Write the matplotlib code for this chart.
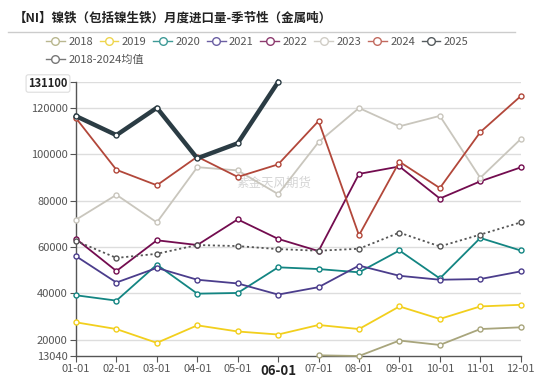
import numpy as np
import matplotlib
matplotlib.use("Agg")
import matplotlib.pyplot as plt
from matplotlib.lines import Line2D

plt.rcParams['font.family'] = ['Noto Sans CJK SC', 'DejaVu Sans']

months = ["01-01", "02-01", "03-01", "04-01", "05-01", "06-01",
          "07-01", "08-01", "09-01", "10-01", "11-01", "12-01"]
nan = np.nan
y2018 = [nan, nan, nan, nan, nan, nan, 13330, 13040, 19700, 17800, 24650, 25400]
y2019 = [27550, 24650, 18700, 26250, 23600, 22300, 26400, 24650, 34400, 29000, 34400, 35100]
y2020 = [39200, 36900, 52400, 39900, 40200, 51250, 50500, 49100, 58500, 46450, 63900, 58500]
y2021 = [56050, 44700, 51000, 45900, 44300, 39500, 42700, 52000, 47600, 45900, 46200, 49500]
y2022 = [63500, 49650, 62900, 60860, 71900, 63500, 58250, 91500, 94700, 80900, 88300, 94300]
y2023 = [71760, 82500, 70600, 94400, 93000, 82800, 105200, 119900, 112000, 116500, 89800, 106500]
y2024 = [115500, 93260, 86600, 98900, 90200, 95600, 114300, 65050, 96750, 85400, 109500, 125000]
y2025 = [116400, 108200, 120000, 98200, 104700, 131100, nan, nan, nan, nan, nan, nan]
avg = [62600, 55300, 57070, 60860, 60400, 59100, 58400, 59250, 66200, 60250, 65350, 70600]

ymin, ymax = 13040, 131100
yticks = [13040, 20000, 40000, 60000, 80000, 100000, 120000, 131100]

series = [
    ("2018", y2018, "#a8a57c", 1.3),
    ("2019", y2019, "#f2cf1d", 1.3),
    ("2020", y2020, "#138582", 1.3),
    ("2021", y2021, "#4b3d8c", 1.3),
    ("2022", y2022, "#730c4f", 1.3),
    ("2023", y2023, "#c9c6bd", 1.3),
    ("2024", y2024, "#b2473a", 1.3),
    ("2025", y2025, "#2b3c44", 3.2),
]
leg_colors = ["#b9b78f", "#eed54d", "#3f9a97", "#6b5fa3", "#8d3b6f", "#d0cdc6", "#c26a5f", "#555b5e"]

fig = plt.figure(figsize=(5.5, 3.77), dpi=100)
ax = fig.add_axes([76/550, 1-356/377, (520.7-76)/550, (356-82)/377])

x = np.arange(len(months))
for name, vals, col, lw in series:
    ax.plot(x, vals, color=col, lw=lw, marker='o', markersize=3.6,
            markerfacecolor='white', markeredgecolor=col, markeredgewidth=1.0,
            zorder=3 if name != "2025" else 5, clip_on=False)
ax.plot(x, avg, color="#555555", lw=1.3, ls=(0, (1.2, 1.5)), marker='o', markersize=3.6,
        markerfacecolor='white', markeredgecolor="#555555", markeredgewidth=1.0, zorder=4,
        clip_on=False)

ax.set_xlim(0, 11)
ax.set_ylim(ymin, ymax)
ax.set_xticks(x)
ax.set_xticklabels(months)
ax.set_yticks(yticks)
ax.set_yticklabels([str(v) for v in yticks])
for t in ax.get_yticklabels():
    t.set_color("#555555")
    t.set_fontsize(8)
for t in ax.get_xticklabels():
    t.set_color("#555555")
    t.set_fontsize(8)
lab = ax.get_yticklabels()[-1]
lab.set_fontweight('bold')
lab.set_color('#222222')
lab.set_bbox(dict(boxstyle='round,pad=0.2', fc='white', ec='#dddddd', lw=0.8))
xl = ax.get_xticklabels()[5]
xl.set_fontweight('bold')
xl.set_fontsize(9.5)
xl.set_color('#222222')

for v in yticks[1:]:
    ax.axhline(v, color="#dddddd", lw=1.0, zorder=1)
for s in ['top', 'right']:
    ax.spines[s].set_visible(False)
for s in ['left', 'bottom']:
    ax.spines[s].set_color("#555555")
    ax.spines[s].set_linewidth(1.0)
ax.tick_params(axis='both', length=4, color="#555555", width=0.8, pad=2)
ax.set_facecolor('none')

ax.text(0.445, 0.63, "紫金天风期货", transform=ax.transAxes, fontsize=9,
        color="#d5d5d5", ha='center', va='center', zorder=2)

fig.text(14/550, 1-18/377, "【NI】镍铁（包括镍生铁）月度进口量-季节性（金属吨）",
         fontsize=9.0, fontweight='bold', color="#222222", va='center', ha='left')
fig.add_artist(Line2D([8/550, 515/550], [1-32/377, 1-32/377], color="#cccccc", lw=1.0))

handles = [Line2D([], [], color=c, lw=1.0, marker='o', markersize=5.5,
                  markerfacecolor='white', markeredgecolor=c, markeredgewidth=1.0)
           for c in leg_colors]
labels = [s[0] for s in series]
leg1 = fig.legend(handles, labels, loc='center left', bbox_to_anchor=(46/550, 1-42/377),
                  ncol=8, frameon=False, fontsize=8, handlelength=1.7, handletextpad=0.3,
                  columnspacing=0.6, borderaxespad=0, borderpad=0)
for t in leg1.get_texts():
    t.set_color("#555555")
h2 = [Line2D([], [], color="#777777", lw=1.0, marker='o', markersize=5.5,
             markerfacecolor='white', markeredgecolor="#777777", markeredgewidth=1.0)]
leg2 = fig.legend(h2, ["2018-2024均值"], loc='center left', bbox_to_anchor=(46/550, 1-60/377),
                  frameon=False, fontsize=8, handlelength=1.7, handletextpad=0.3,
                  borderaxespad=0, borderpad=0)
for t in leg2.get_texts():
    t.set_color("#555555")

fig.savefig("out.png", dpi=100)
